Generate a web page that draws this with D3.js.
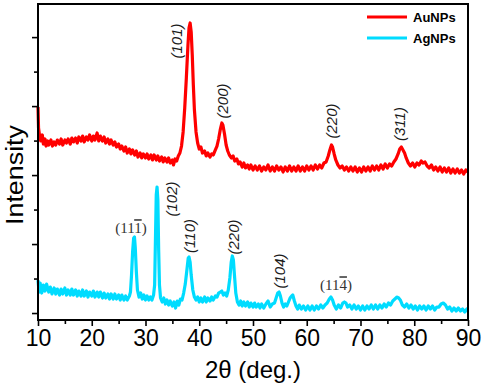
<!DOCTYPE html>
<html>
<head>
<meta charset="utf-8">
<script src="https://cdn.jsdelivr.net/npm/d3@7"></script>
<style>
  body { margin: 0; background: #fff; }
  svg { display: block; font-family: Arial, "Liberation Sans", sans-serif; }
</style>
</head>
<body>
<div id="chart"></div>
<script>
// XRD patterns, [2theta (deg), intensity (a.u.)]
const auNPs = [
  [10.0,2987],[10.1,2682],[10.3,2566],[10.5,2494],[10.8,2581],[11.0,2450],[11.3,2523],[11.5,2421],[11.8,2494],
  [12.0,2436],[12.4,2508],[12.7,2421],[13.0,2480],[13.3,2436],[13.6,2508],[14.0,2450],[14.3,2523],[14.6,2436],
  [15.0,2508],[15.3,2465],[15.6,2523],[16.0,2450],[16.3,2537],[16.6,2480],[17.0,2537],[17.3,2465],[17.6,2552],
  [18.0,2494],[18.3,2566],[18.6,2480],[19.0,2552],[19.3,2508],[19.6,2581],[20.0,2494],[20.3,2566],[20.6,2508],
  [21.0,2610],[21.3,2494],[21.6,2566],[22.0,2494],[22.3,2552],[22.6,2465],[23.0,2523],[23.3,2450],[23.6,2508],
  [24.0,2436],[24.3,2480],[24.6,2407],[25.0,2450],[25.3,2378],[25.6,2421],[26.0,2349],[26.3,2407],[26.6,2320],
  [27.0,2378],[27.3,2306],[27.6,2364],[28.0,2291],[28.3,2349],[28.6,2262],[29.0,2320],[29.3,2248],[29.6,2306],
  [30.0,2248],[30.3,2306],[30.6,2233],[31.0,2291],[31.3,2219],[31.6,2291],[32.0,2219],[32.3,2277],[32.6,2204],
  [33.0,2262],[33.3,2190],[33.6,2248],[34.0,2190],[34.3,2248],[34.6,2175],[35.0,2219],[35.2,2146],[35.5,2233],
  [35.8,2204],[36.1,2277],[36.4,2320],[36.7,2421],[37.0,2625],[37.3,2973],[37.6,3408],[37.9,3886],[38.1,4133],
  [38.3,4205],[38.5,4075],[38.7,3741],[38.9,3306],[39.1,2944],[39.4,2625],[39.7,2465],[40.0,2378],[40.3,2407],
  [40.6,2320],[41.0,2349],[41.3,2277],[41.6,2320],[42.0,2262],[42.3,2306],[42.6,2291],[43.0,2364],[43.3,2421],
  [43.6,2523],[43.9,2654],[44.2,2755],[44.4,2726],[44.7,2596],[45.0,2436],[45.3,2349],[45.6,2291],[46.0,2248],
  [46.3,2277],[46.6,2204],[47.0,2233],[47.3,2161],[47.6,2190],[48.0,2117],[48.3,2175],[48.6,2103],[49.0,2146],
  [49.3,2088],[49.6,2146],[50.0,2074],[50.4,2132],[50.8,2074],[51.2,2132],[51.6,2059],[52.0,2117],[52.4,2074],
  [52.8,2146],[53.2,2059],[53.6,2117],[54.0,2059],[54.4,2132],[54.8,2074],[55.2,2117],[55.6,2045],[56.0,2117],
  [56.4,2059],[56.8,2132],[57.2,2059],[57.6,2117],[58.0,2059],[58.4,2132],[58.8,2059],[59.2,2117],[59.6,2059],
  [60.0,2132],[60.4,2074],[60.8,2132],[61.2,2074],[61.6,2146],[62.0,2088],[62.4,2146],[62.8,2103],[63.2,2175],
  [63.6,2190],[64.0,2277],[64.3,2364],[64.6,2436],[64.8,2407],[65.1,2306],[65.4,2219],[65.8,2146],[66.2,2103],
  [66.6,2132],[67.0,2074],[67.4,2117],[67.8,2059],[68.2,2117],[68.6,2059],[69.0,2117],[69.4,2045],[69.8,2103],
  [70.2,2045],[70.6,2117],[71.0,2059],[71.4,2117],[71.8,2059],[72.2,2132],[72.6,2074],[73.0,2132],[73.4,2074],
  [73.8,2146],[74.2,2088],[74.6,2161],[75.0,2103],[75.4,2161],[75.8,2132],[76.2,2190],[76.6,2233],[77.0,2306],
  [77.3,2378],[77.6,2407],[77.9,2364],[78.2,2320],[78.5,2248],[78.9,2175],[79.3,2132],[79.7,2175],[80.1,2117],
  [80.5,2175],[80.9,2146],[81.3,2204],[81.6,2175],[82.0,2190],[82.4,2132],[82.8,2103],[83.2,2146],[83.6,2074],
  [84.0,2117],[84.4,2059],[84.8,2117],[85.2,2045],[85.6,2103],[86.0,2045],[86.4,2103],[86.8,2030],[87.2,2088],
  [87.6,2030],[88.0,2088],[88.4,2030],[88.8,2074],[89.2,2016],[89.6,2074],[90.0,2045]
];

const agNPs = [
  [10.0,478],[10.2,304],[10.4,435],[10.7,290],[11.0,406],[11.3,319],[11.6,420],[12.0,304],[12.3,377],[12.6,276],
  [13.0,363],[13.3,276],[13.6,348],[14.0,261],[14.3,348],[14.6,276],[15.0,363],[15.3,261],[15.6,334],[16.0,261],
  [16.3,348],[16.6,261],[17.0,334],[17.3,247],[17.6,319],[18.0,247],[18.3,334],[18.6,247],[19.0,319],[19.3,232],
  [19.6,304],[20.0,247],[20.3,319],[20.6,232],[21.0,304],[21.3,232],[21.6,304],[22.0,218],[22.3,290],[22.6,218],
  [23.0,276],[23.3,203],[23.6,276],[24.0,203],[24.3,276],[24.6,203],[25.0,261],[25.3,189],[25.6,261],[26.0,189],
  [26.3,247],[26.6,189],[27.0,247],[27.2,304],[27.4,551],[27.6,885],[27.8,1088],[27.95,1102],[28.1,943],[28.3,595],
  [28.5,334],[28.8,232],[29.1,290],[29.4,203],[29.7,261],[30.0,189],[30.3,247],[30.6,189],[30.9,232],[31.2,189],
  [31.5,261],[31.7,406],[31.85,1059],[32.0,1711],[32.15,1827],[32.3,1639],[32.45,914],[32.6,406],[32.8,218],[33.1,160],
  [33.4,218],[33.7,131],[34.0,189],[34.3,116],[34.6,174],[35.0,102],[35.3,160],[35.6,73],[35.9,174],[36.2,116],
  [36.5,203],[36.8,189],[37.1,290],[37.4,420],[37.7,624],[37.95,798],[38.1,812],[38.3,740],[38.5,551],[38.8,334],
  [39.1,232],[39.4,189],[39.7,232],[40.0,160],[40.3,218],[40.6,160],[41.0,232],[41.3,160],[41.6,218],[42.0,174],
  [42.3,232],[42.6,189],[43.0,247],[43.3,232],[43.6,290],[43.9,304],[44.2,319],[44.5,261],[44.8,290],[45.1,247],
  [45.4,334],[45.7,508],[45.95,740],[46.15,827],[46.35,769],[46.55,551],[46.8,290],[47.1,160],[47.4,116],[47.7,174],
  [48.0,102],[48.3,160],[48.6,102],[49.0,160],[49.3,87],[49.6,145],[50.0,87],[50.3,145],[50.6,87],[51.0,131],
  [51.3,73],[51.6,131],[52.0,73],[52.4,131],[52.8,174],[53.2,87],[53.6,131],[54.0,145],[54.3,218],[54.6,290],
  [54.85,304],[55.1,247],[55.4,145],[55.7,87],[56.0,131],[56.3,102],[56.6,160],[56.9,218],[57.2,247],[57.4,261],
  [57.7,174],[58.0,102],[58.3,58],[58.6,116],[59.0,58],[59.4,102],[59.8,44],[60.2,102],[60.6,44],[61.0,102],
  [61.4,44],[61.8,102],[62.2,58],[62.6,116],[63.0,73],[63.4,116],[63.8,145],[64.2,203],[64.5,232],[64.8,189],
  [65.1,116],[65.5,58],[65.9,116],[66.3,73],[66.7,145],[67.0,160],[67.3,145],[67.6,87],[68.0,116],[68.4,58],
  [68.8,116],[69.2,58],[69.6,102],[70.0,44],[70.4,102],[70.8,44],[71.2,102],[71.6,58],[72.0,116],[72.4,58],
  [72.8,116],[73.2,58],[73.6,116],[74.0,73],[74.4,131],[74.8,87],[75.2,145],[75.6,116],[76.0,174],[76.4,203],
  [76.8,232],[77.1,218],[77.4,189],[77.8,116],[78.2,87],[78.6,131],[79.0,73],[79.4,116],[79.8,58],[80.2,102],
  [80.6,44],[81.0,102],[81.4,58],[81.8,102],[82.2,44],[82.6,102],[83.0,58],[83.4,102],[83.8,44],[84.2,87],
  [84.6,87],[85.0,131],[85.4,145],[85.8,116],[86.2,58],[86.6,87],[87.0,29],[87.4,73],[87.8,29],[88.2,73],
  [88.6,29],[89.0,58],[89.4,15],[89.8,58],[90.0,44]
];

// Miller index labels: text, 2theta, intensity at label centre
const auLabels = [
  ["(101)", 35.86, 3944], ["(200)", 44.42, 3074], ["(220)", 64.70, 2784], ["(311)", 77.35, 2740]
];
const agLabels = [
  ["(102)", 34.93, 1653], ["(110)", 38.28, 1117], ["(220)", 46.47, 1102], ["(104)", 55.02, 609]
];
// barred indices: [before, barred digit, after], 2theta, intensity
const agSerifLabels = [
  [["(11", "1", ")"], 27.30, 1233], [["(11", "4", ")"], 65.44, 406]
];

const seriesNames = ["AuNPs", "AgNPs"];
const seriesColors = ["#ff0000", "#00dcff"];
const xTicks = [10, 20, 30, 40, 50, 60, 70, 80, 90];

const W = 484, H = 385;
const mLeft = 38, mRight = 468, mTop = 4, mBottom = 320;

const svg = d3.select("#chart").append("svg")
  .attr("width", W).attr("height", H);

const x = d3.scaleLinear().domain([10, 90]).range([mLeft, mRight]);
const y = d3.scaleLinear().domain([-101, 4480]).range([mBottom, mTop]);

// curves
const line = d3.line().x(d => x(d[0])).y(d => y(d[1]));
[auNPs, agNPs].forEach((s, i) => {
  svg.append("path")
    .datum(s)
    .attr("d", line)
    .attr("fill", "none")
    .attr("stroke", seriesColors[i])
    .attr("stroke-width", 3.2)
    .attr("stroke-linejoin", "round");
});

// axes
const xMajor = d3.axisBottom(x).tickValues(xTicks).tickSize(6).tickPadding(4).tickFormat(d3.format("d"));
const xMinor = d3.axisBottom(x).tickValues(d3.range(15, 90, 10)).tickSize(4).tickFormat("");
const yMajor = d3.axisLeft(y).tickValues([0, 1000, 2000, 3000, 4000]).tickSize(6).tickFormat("");
const yMinor = d3.axisLeft(y).tickValues([500, 1500, 2500, 3500]).tickSize(4).tickFormat("");

[xMajor, xMinor].forEach(ax => {
  const g = svg.append("g").attr("transform", `translate(0,${mBottom})`).call(ax);
  g.select(".domain").remove();
  g.selectAll("line").attr("stroke", "#000").attr("stroke-width", 1.6);
  g.selectAll("text").attr("font-size", 23).attr("fill", "#000")
    .attr("font-family", "Arial, 'Liberation Sans', sans-serif");
});
[yMajor, yMinor].forEach(ax => {
  const g = svg.append("g").attr("transform", `translate(${mLeft},0)`).call(ax);
  g.select(".domain").remove();
  g.selectAll("line").attr("stroke", "#000").attr("stroke-width", 1.6);
});

// frame
svg.append("rect")
  .attr("x", mLeft).attr("y", mTop)
  .attr("width", mRight - mLeft).attr("height", mBottom - mTop)
  .attr("fill", "none").attr("stroke", "#000").attr("stroke-width", 2);

// titles
svg.append("text")
  .attr("x", (mLeft + mRight) / 2).attr("y", 378)
  .attr("text-anchor", "middle").attr("font-size", 24)
  .text("2\u03b8 (deg.)");

svg.append("text")
  .attr("transform", "translate(23,175) rotate(-90)")
  .attr("text-anchor", "middle").attr("font-size", 23)
  .attr("textLength", 100).attr("lengthAdjust", "spacingAndGlyphs")
  .text("Intensity");

// peak labels
const rotLabels = auLabels.concat(agLabels);
svg.selectAll("text.peak")
  .data(rotLabels)
  .join("text")
  .attr("class", "peak")
  .attr("transform", d => `translate(${x(d[1])},${y(d[2])}) rotate(-90)`)
  .attr("text-anchor", "middle")
  .attr("dy", "0.35em")
  .attr("font-size", 15)
  .attr("font-style", "italic")
  .attr("fill", "#1a1a1a")
  .text(d => d[0]);

const serif = svg.selectAll("text.serif")
  .data(agSerifLabels)
  .join("text")
  .attr("class", "serif")
  .attr("x", d => x(d[1])).attr("y", d => y(d[2]))
  .attr("dy", "0.35em")
  .attr("text-anchor", "middle")
  .attr("font-family", "'Liberation Serif', 'DejaVu Serif', serif")
  .attr("font-size", 15)
  .attr("fill", "#333");
serif.append("tspan").text(d => d[0][0]);
serif.append("tspan").style("text-decoration", "overline").text(d => d[0][1]);
serif.append("tspan").text(d => d[0][2]);

// legend
const legend = svg.append("g");
seriesNames.forEach((name, i) => {
  const ly = 17 + i * 21;
  legend.append("line")
    .attr("x1", 367).attr("x2", 407).attr("y1", ly).attr("y2", ly)
    .attr("stroke", seriesColors[i]).attr("stroke-width", 3);
  legend.append("text")
    .attr("x", 413).attr("y", ly).attr("dy", "0.35em")
    .attr("font-size", 13).attr("font-weight", "bold")
    .text(name);
});
</script>
</body>
</html>
